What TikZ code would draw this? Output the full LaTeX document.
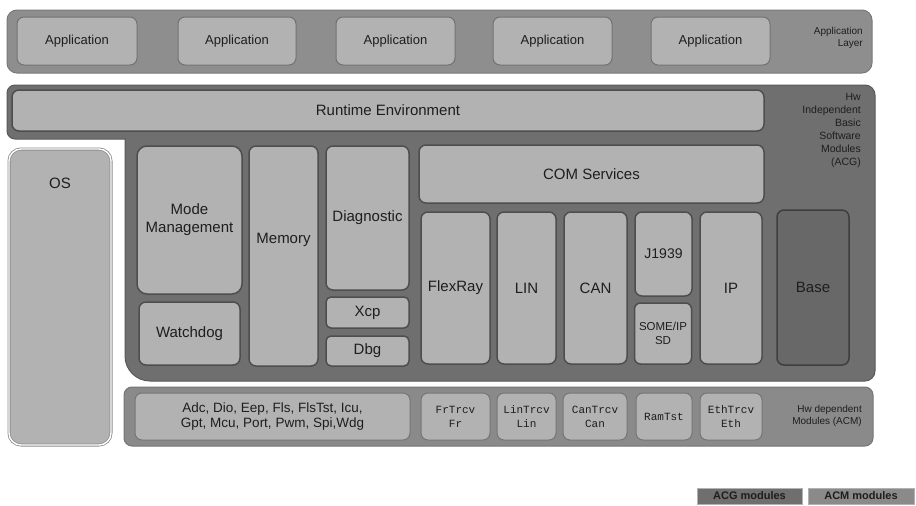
\documentclass[tikz,border=0pt]{standalone}
\usepackage{fontspec}
\setmainfont{Liberation Sans}
\setmonofont{Liberation Mono}
\definecolor{appcont}{HTML}{8E8E8E}
\definecolor{acgfill}{HTML}{6F6F6F}
\definecolor{acmfill}{HTML}{8A8A8A}
\definecolor{lightbox}{HTML}{B2B2B2}
\definecolor{edgegray}{HTML}{4E4E4E}
\definecolor{txt}{HTML}{1E1E1E}
\newcommand\fs[1]{\fontsize{#1}{#1}\selectfont}
\tikzset{
  lbox/.style={draw=edgegray, line width=1.5pt, fill=lightbox, rounded corners=7pt,
    inner sep=0pt, align=center, text=txt, font=\fs{15}},
  appbox/.style={lbox, draw=appcont!80!black, line width=1pt, font=\fs{13},
    minimum height=48pt},
  acmbox/.style={lbox, draw=acmfill!85!black, line width=1pt, font=\ttfamily\fs{11},
    minimum height=47pt},
  sidelabel/.style={anchor=north east, align=right, text=txt, inner sep=0pt},
  legend/.style={draw=gray!60, line width=0.6pt, inner sep=0pt, minimum height=16pt,
    font=\bfseries\fs{11}, text=txt},
}
\begin{document}
\begin{tikzpicture}[x=1pt, y=-1pt]
\useasboundingbox (0,0) rectangle (916,506);

% Application layer
\node[fill=appcont, draw=appcont!85!black, line width=1pt, rounded corners=10pt,
  minimum width=865pt, minimum height=63pt, inner sep=0pt] (applayer) at (439.5,41.5) {};
\node[appbox, minimum width=120pt] (app1) at (77,41) {Application};
\node[appbox, minimum width=118pt] (app2) at (237,41) {Application};
\node[appbox, minimum width=119pt] (app3) at (395.5,41) {Application};
\node[appbox, minimum width=119pt] (app4) at (552.5,41) {Application};
\node[appbox, minimum width=119pt] (app5) at (710.5,41) {Application};
\node[sidelabel, font=\fs{10}] (applbl) at (863,27)
  {Application\\[2.5pt]Layer};

% Hardware independent basic software block
\fill[acgfill, draw=acgfill!80!black, line width=1pt]
  (15,85) -- (865,85) arc[start angle=-90, end angle=0, radius=10]
  -- (875,371) arc[start angle=0, end angle=90, radius=10]
  -- (150,381) arc[start angle=90, end angle=180, radius=25]
  -- (125,139) -- (15,139) arc[start angle=90, end angle=180, radius=8]
  -- (7,93) arc[start angle=180, end angle=270, radius=8] -- cycle;
\node[sidelabel, font=\fs{10.5}] (acglbl) at (861,93)
  {Hw\\[2.5pt]Independent\\[2.5pt]Basic\\[2.5pt]Software\\[2.5pt]Modules\\[2.5pt](ACG)};

\node[lbox, minimum width=752pt, minimum height=41pt] (rte) at (388,110.5) {Runtime Environment};

% OS
\node[lbox, draw=gray!90, double=white, double distance=1.4pt, line width=0.8pt,
  rounded corners=12pt, minimum width=102pt, minimum height=296pt] (os) at (60,297) {};
\node[text=txt, font=\fs{15}] (oslbl) at (60,183) {OS};

% System services
\node[lbox, minimum width=105pt, minimum height=148pt, rounded corners=10pt] (mode) at (189.5,220)
  {Mode\\[3pt]Management};
\node[lbox, minimum width=101pt, minimum height=63pt] (wdg) at (189.5,333.5) {Watchdog};
\node[lbox, minimum width=69pt, minimum height=220pt] (mem) at (283.5,256) {};
\node[text=txt, font=\fs{15}] (memlbl) at (283.5,240) {Memory};
\node[lbox, minimum width=83pt, minimum height=144pt] (diag) at (367.5,218) {Diagnostic};
\node[lbox, minimum width=83pt, minimum height=31pt, rounded corners=5pt] (xcp) at (367.5,312.5) {Xcp};
\node[lbox, minimum width=83pt, minimum height=30pt, rounded corners=5pt] (dbg) at (367.5,351) {Dbg};

% Communication stack
\node[lbox, minimum width=345pt, minimum height=58pt] (com) at (591.5,174) {COM Services};
\node[lbox, minimum width=69pt, minimum height=152pt] (fr) at (455.5,288) {FlexRay};
\node[lbox, minimum width=59pt, minimum height=152pt] (lin) at (526.5,288) {LIN};
\node[lbox, minimum width=63pt, minimum height=152pt] (can) at (595.5,288) {CAN};
\node[lbox, minimum width=57pt, minimum height=84pt, font=\fs{14}] (j1939) at (663.5,254) {J1939};
\node[lbox, minimum width=57pt, minimum height=61pt, rounded corners=6pt, font=\fs{11.5}] (someip)
  at (663,333.5) {SOME/IP\\[2pt]SD};
\node[lbox, minimum width=62pt, minimum height=152pt] (ip) at (731,288) {IP};
\node[lbox, fill=acgfill!105, draw=edgegray!80!black, minimum width=72pt, minimum height=155pt]
  (base) at (813,287.5) {Base};

% Hardware dependent modules
\node[fill=acmfill, draw=acmfill!85!black, line width=1pt, rounded corners=8pt,
  minimum width=749pt, minimum height=59pt, inner sep=0pt] (acm) at (498.5,416.5) {};
\node[acmbox, minimum width=275pt, font=\fs{13.5}] (mcal) at (272.5,416.5)
  {Adc, Dio, Eep, Fls, FlsTst, Icu,\\[1.5pt]Gpt, Mcu, Port, Pwm, Spi,Wdg};
\node[acmbox, minimum width=69pt] (frtrcv) at (455.5,416.5) {FrTrcv\\[3pt]Fr};
\node[acmbox, minimum width=59pt] (lintrcv) at (526.5,416.5) {LinTrcv\\[3pt]Lin};
\node[acmbox, minimum width=64pt] (cantrcv) at (595,416.5) {CanTrcv\\[3pt]Can};
\node[acmbox, minimum width=56pt] (ramtst) at (664,416.5) {RamTst};
\node[acmbox, minimum width=62pt] (ethtrcv) at (731,416.5) {EthTrcv\\[3pt]Eth};
\node[sidelabel, font=\fs{10}] (acmlbl) at (862,405) {Hw dependent\\[2.5pt]Modules (ACM)};

% Legend
\node[legend, fill=acgfill, minimum width=105pt] (legacg) at (749.5,496) {ACG modules};
\node[legend, fill=acmfill, minimum width=106pt] (legacm) at (861,496) {ACM modules};
\end{tikzpicture}
\end{document}
